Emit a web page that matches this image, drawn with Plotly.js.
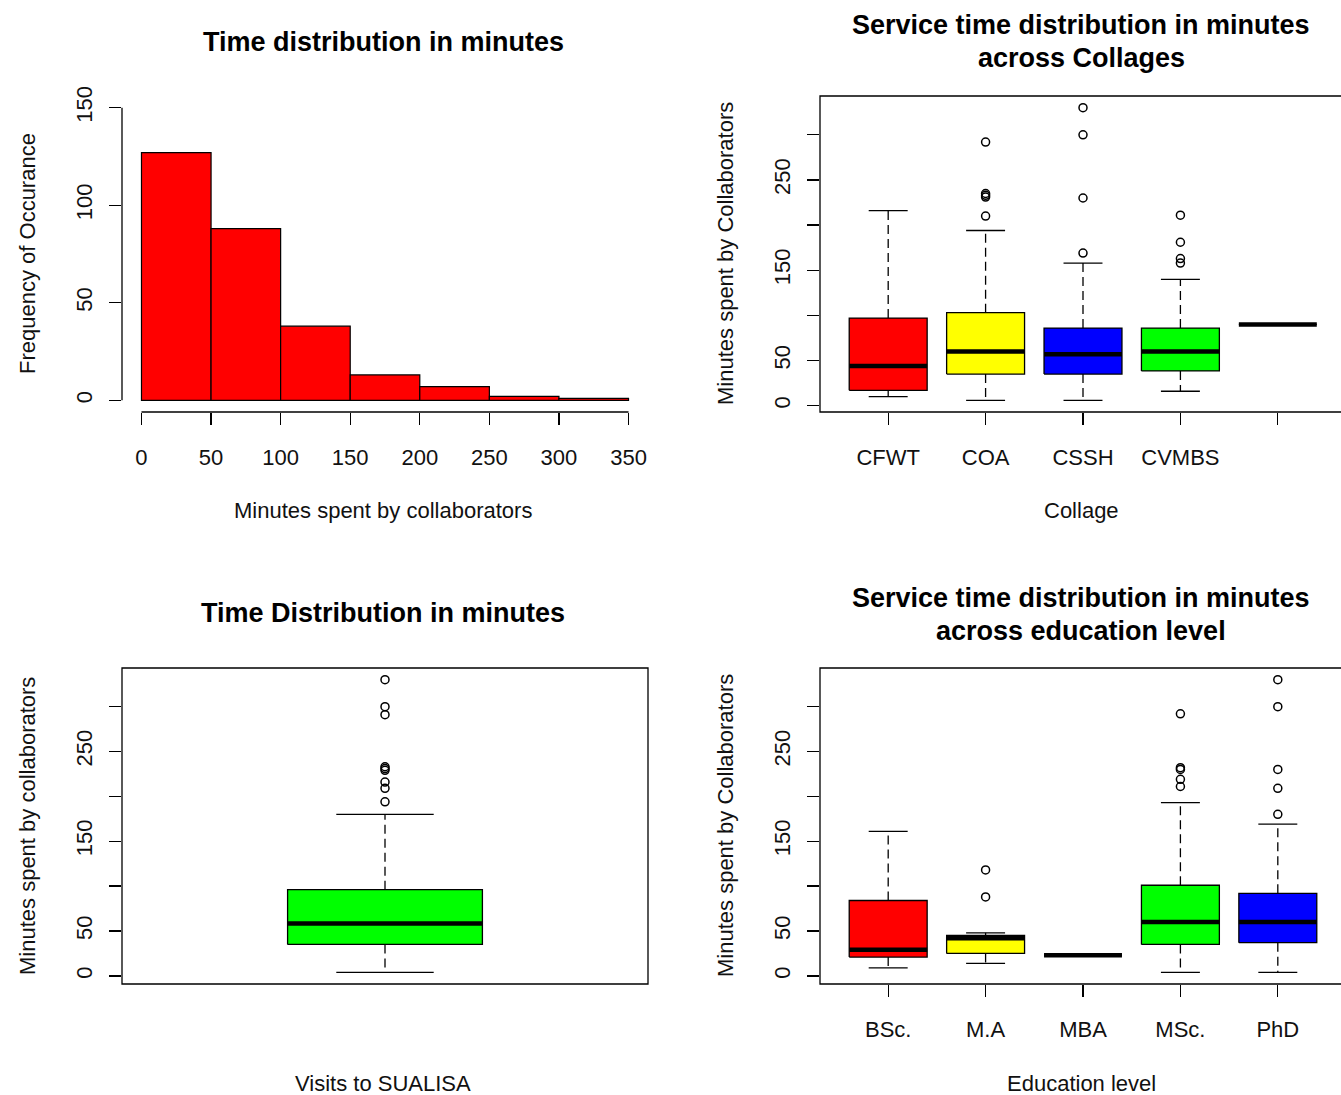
<!DOCTYPE html>
<html>
<head>
<meta charset="utf-8">
<script src="https://cdn.plot.ly/plotly-3.0.1.min.js"></script>
<style>html,body{margin:0;padding:0;background:#fff;overflow:hidden}</style>
</head>
<body>
<div id="chart" style="width:1341px;height:1095px"></div>
<script>
// ---------------- data ----------------
const histBinStart = [0, 50, 100, 150, 200, 250, 300];
const histBinWidth = 50;
const histCounts = [127, 88, 38, 13, 7, 2, 1];
const histTicks = [0, 50, 100, 150, 200, 250, 300, 350];
const histYLim = [0, 150];
const histYTicks = [0, 50, 100, 150];

const collegeNames = ['CFWT', 'COA', 'CSSH', 'CVMBS', ''];
const collegeColors = ['#FF0000', '#FFFF00', '#0000FF', '#00FF00', '#FF0000'];
const collegeLow  = [10, 6, 6, 16, 90];
const collegeQ1   = [17, 35, 35, 38.5, 90];
const collegeMed  = [44, 60, 57, 60, 90];
const collegeQ3   = [97, 103, 86, 86, 90];
const collegeHigh = [216, 194, 158, 140, 90];
const collegeOutliers = [[], [292, 235, 233, 231, 210], [330, 300, 230, 169], [211, 181, 163, 158], []];

const visitsName = 'Visits to SUALISA';
const visitsLow = [4], visitsQ1 = [35], visitsMed = [58.5], visitsQ3 = [96], visitsHigh = [180];
const visitsOutliers = [[330, 300, 291, 233, 231, 229, 216, 209, 194]];

const eduNames = ['BSc.', 'M.A', 'MBA', 'MSc.', 'PhD'];
const eduColors = ['#FF0000', '#FFFF00', '#FF0000', '#00FF00', '#0000FF'];
const eduLow  = [9, 14, 23, 4, 4];
const eduQ1   = [21, 25, 23, 35, 37];
const eduMed  = [29, 42, 23, 60, 60];
const eduQ3   = [84, 45, 23, 101, 92];
const eduHigh = [161, 48, 23, 193, 169];
const eduOutliers = [[], [118, 88], [], [292, 232, 230, 219, 211], [330, 300, 230, 209, 180]];

const boxYTicks = [0, 50, 100, 150, 200, 250, 300];
const boxYTickText = ['0', '50', '', '150', '', '250', ''];

// ---------------- layout helpers ----------------
const W = 1341, H = 1095;
const FONT = 'Liberation Sans, Arial, Helvetica, sans-serif';
const TXT = '#111';
const px = v => v / W;
const py = v => 1 - v / H;

function rExtend(lo, hi) { const d = hi - lo; return [lo - 0.04 * d, hi + 0.04 * d]; }

function boxRange(lows, highs, outs) {
  let all = [].concat(lows, highs, ...outs);
  return rExtend(Math.min(...all), Math.max(...all));
}

const traces = [];

// histogram (pre-binned counts drawn as bars)
traces.push({
  type: 'bar', xaxis: 'x', yaxis: 'y',
  x: histBinStart.map(s => s + histBinWidth / 2), y: histCounts, width: histBinWidth,
  marker: { color: '#FF0000', line: { color: '#000', width: 1.2 } },
  showlegend: false, hoverinfo: 'x+y'
});

function addBoxes(xa, ya, low, q1, med, q3, high, colors, outs, names) {
  const n = low.length;
  const centers = low.map((_, i) => i + 1);
  const half = 0.4, staple = 0.2;
  const ox = [], oy = [], mx = [], my = [], wx = [], wy = [], sx = [], sy = [], px_ = [], py_ = [];
  for (let i = 0; i < n; i++) {
    const c = centers[i];
    traces.push({
      type: 'box', xaxis: xa, yaxis: ya, name: names[i] || ' ',
      x: [c], q1: [q1[i]], median: [med[i]], q3: [q3[i]],
      lowerfence: [low[i]], upperfence: [high[i]], width: 2 * half,
      fillcolor: colors[i], line: { color: 'rgba(0,0,0,0)', width: 0 },
      whiskerwidth: 0, boxpoints: false, showlegend: false, hoverinfo: 'skip'
    });
    ox.push(c - half, c + half, c + half, c - half, c - half, null);
    oy.push(q1[i], q1[i], q3[i], q3[i], q1[i], null);
    mx.push(c - half, c + half, null); my.push(med[i], med[i], null);
    wx.push(c, c, null, c, c, null); wy.push(q3[i], high[i], null, q1[i], low[i], null);
    sx.push(c - staple, c + staple, null, c - staple, c + staple, null);
    sy.push(high[i], high[i], null, low[i], low[i], null);
    outs[i].forEach(v => { px_.push(c); py_.push(v); });
  }
  const common = { xaxis: xa, yaxis: ya, showlegend: false, hoverinfo: 'skip', type: 'scatter', mode: 'lines' };
  traces.push(Object.assign({}, common, { x: wx, y: wy, line: { color: '#000', width: 1.3, dash: '9px,5px' } }));
  traces.push(Object.assign({}, common, { x: sx, y: sy, line: { color: '#000', width: 1.3 } }));
  traces.push(Object.assign({}, common, { x: ox, y: oy, line: { color: '#000', width: 1.3 } }));
  traces.push(Object.assign({}, common, { x: mx, y: my, line: { color: '#000', width: 4.5 } }));
  traces.push(Object.assign({}, common, { x: px_, y: py_, mode: 'markers', hoverinfo: 'y',
    marker: { symbol: 'circle-open', size: 8, color: '#000', line: { width: 1.5, color: '#000' } } }));
}

addBoxes('x2', 'y2', collegeLow, collegeQ1, collegeMed, collegeQ3, collegeHigh, collegeColors, collegeOutliers, collegeNames);
addBoxes('x3', 'y3', visitsLow, visitsQ1, visitsMed, visitsQ3, visitsHigh, ['#00FF00'], visitsOutliers, [visitsName]);
addBoxes('x4', 'y4', eduLow, eduQ1, eduMed, eduQ3, eduHigh, eduColors, eduOutliers, eduNames);

// ---------------- axes ----------------
const tickFont = { family: FONT, size: 22, color: TXT };
const baseX = { showgrid: false, zeroline: false, showline: false, ticks: 'outside', ticklen: 12,
  tickwidth: 1.3, tickcolor: '#000', tickfont: tickFont, ticklabelstandoff: 14, fixedrange: true };
const baseY = Object.assign({}, baseX, { tickangle: -90, ticklabelstandoff: 8 });

const leftDom = [px(122), px(648)];
const rightDom = [px(820), 1];
const topDom = [py(412), py(96)];
const botDom = [py(984), py(668)];

// multi-box x range as R: [0.5, n+0.5] extended 4%, right panels cut by the image edge
const pxPerUnitR = 526 / (5.4);
const rightXRange = [0.3, 0.3 + (W - 820) / pxPerUnitR];

const layout = {
  width: W, height: H, margin: { l: 0, r: 0, t: 0, b: 0 },
  paper_bgcolor: '#fff', plot_bgcolor: 'rgba(0,0,0,0)', showlegend: false,
  font: { family: FONT, color: TXT },
  xaxis: Object.assign({}, baseX, { domain: leftDom, anchor: 'y', range: rExtend(histBinStart[0], histBinStart[histBinStart.length - 1] + histBinWidth),
    tickvals: histTicks, ticktext: histTicks.map(String) }),
  yaxis: Object.assign({}, baseY, { domain: topDom, anchor: 'x', range: rExtend(histYLim[0], histYLim[1]),
    tickvals: histYTicks, ticktext: histYTicks.map(String) }),
  xaxis2: Object.assign({}, baseX, { domain: rightDom, anchor: 'y2', range: rightXRange,
    tickvals: collegeNames.map((_, i) => i + 1), ticktext: collegeNames }),
  yaxis2: Object.assign({}, baseY, { domain: topDom, anchor: 'x2', range: boxRange(collegeLow, collegeHigh, collegeOutliers),
    tickvals: boxYTicks, ticktext: boxYTickText }),
  xaxis3: Object.assign({}, baseX, { domain: leftDom, anchor: 'y3', range: [-0.08, 2.08], ticks: '', showticklabels: false }),
  yaxis3: Object.assign({}, baseY, { domain: botDom, anchor: 'x3', range: boxRange(visitsLow, visitsHigh, visitsOutliers),
    tickvals: boxYTicks, ticktext: boxYTickText }),
  xaxis4: Object.assign({}, baseX, { domain: rightDom, anchor: 'y4', range: rightXRange,
    tickvals: eduNames.map((_, i) => i + 1), ticktext: eduNames }),
  yaxis4: Object.assign({}, baseY, { domain: botDom, anchor: 'x4', range: boxRange(eduLow, eduHigh, eduOutliers),
    tickvals: boxYTicks, ticktext: boxYTickText }),
  shapes: [
    { type: 'line', xref: 'x domain', x0: 0, x1: 0, yref: 'y', y0: histYTicks[0], y1: histYTicks[histYTicks.length - 1], line: { color: '#000', width: 1.3 } },
    { type: 'line', xref: 'x', x0: histTicks[0], x1: histTicks[histTicks.length - 1], yref: 'y domain', y0: 0, y1: 0, line: { color: '#000', width: 1.3 } },
    { type: 'rect', xref: 'x2 domain', x0: 0, x1: 1.02, yref: 'y2 domain', y0: 0, y1: 1, line: { color: '#000', width: 1.3 } },
    { type: 'rect', xref: 'x3 domain', x0: 0, x1: 1, yref: 'y3 domain', y0: 0, y1: 1, line: { color: '#000', width: 1.3 } },
    { type: 'rect', xref: 'x4 domain', x0: 0, x1: 1.02, yref: 'y4 domain', y0: 0, y1: 1, line: { color: '#000', width: 1.3 } }
  ],
  annotations: []
};

function ann(text, x, y, opts) {
  layout.annotations.push(Object.assign({
    text: text, xref: 'paper', yref: 'paper', x: px(x), y: py(y), xanchor: 'center', yanchor: 'middle',
    showarrow: false, font: { family: FONT, size: 22, color: TXT }
  }, opts || {}));
}
const titleFont = { family: FONT, size: 27, color: '#000', weight: 'bold' };
ann('<b>Time distribution in minutes</b>', 383, 42, { font: titleFont });
ann('<b>Service time distribution in minutes</b>', 1081, 25, { font: titleFont });
ann('<b>across Collages</b>', 1081, 58, { font: titleFont });
ann('<b>Time Distribution in minutes</b>', 383, 613, { font: titleFont });
ann('<b>Service time distribution in minutes</b>', 1081, 598, { font: titleFont });
ann('<b>across education level</b>', 1081, 631, { font: titleFont });

ann('Minutes spent by collaborators', 383, 510);
ann('Frequency of Occurance', 27, 254, { textangle: -90 });
ann('Collage', 1081, 510);
ann('Minutes spent by Collaborators', 725, 254, { textangle: -90 });
ann(visitsName, 383, 1083);
ann('Minutes spent by collaborators', 27, 826, { textangle: -90 });
ann('Education level', 1081, 1083);
ann('Minutes spent by Collaborators', 725, 826, { textangle: -90 });

Plotly.newPlot('chart', traces, layout, { staticPlot: true, displayModeBar: false });
</script>
</body>
</html>
